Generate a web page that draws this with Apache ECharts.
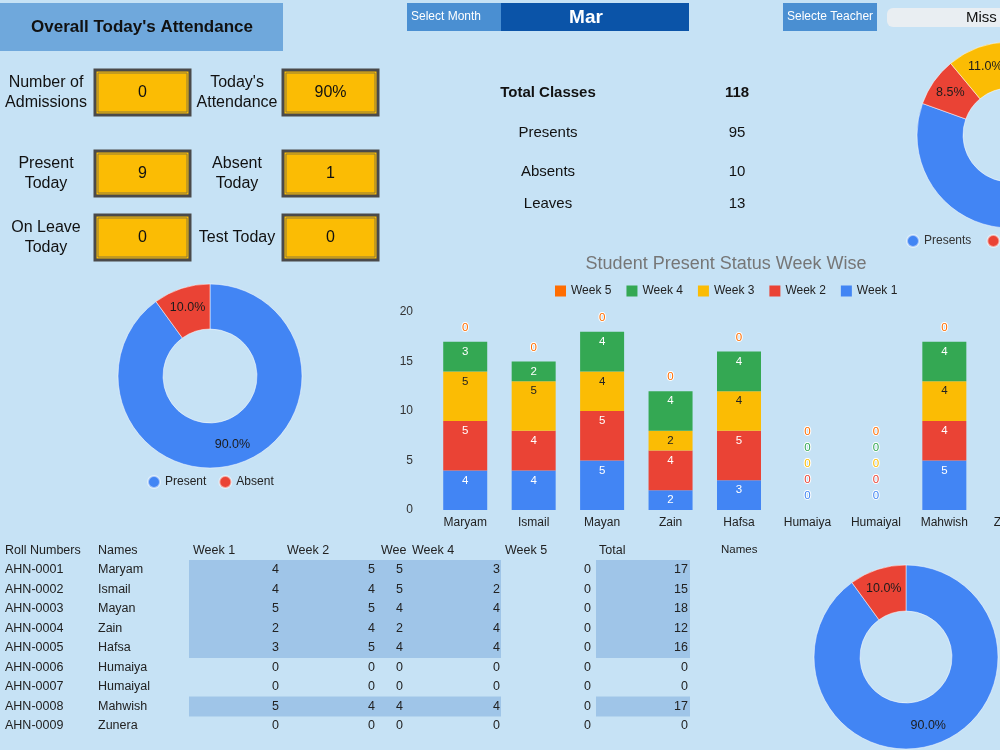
<!DOCTYPE html>
<html>
<head>
<meta charset="utf-8">
<script src="https://cdn.jsdelivr.net/npm/echarts@6/dist/echarts.min.js"></script>
<style>
html, body { margin: 0; padding: 0; background: #c6e2f5; }
#main { width: 1000px; height: 750px; }
</style>
</head>
<body>
<div id="main"></div>
<script>
// Attendance dashboard, one ECharts instance: stacked week bars, three donuts,
// KPI tiles and the roll table drawn as graphic text.

// ── Data ────────────────────────────────────────────────────────────────
const rollNumbers = ['AHN-0001', 'AHN-0002', 'AHN-0003', 'AHN-0004', 'AHN-0005',
                     'AHN-0006', 'AHN-0007', 'AHN-0008', 'AHN-0009'];
const students = ['Maryam', 'Ismail', 'Mayan', 'Zain', 'Hafsa',
                  'Humaiya', 'Humaiyal', 'Mahwish', 'Zunera'];
const week1 = [4, 4, 5, 2, 3, 0, 0, 5, 0];
const week2 = [5, 4, 5, 4, 5, 0, 0, 4, 0];
const week3 = [5, 5, 4, 2, 4, 0, 0, 4, 0];
const week4 = [3, 2, 4, 4, 4, 0, 0, 4, 0];
const week5 = [0, 0, 0, 0, 0, 0, 0, 0, 0];
const totals = [17, 15, 18, 12, 16, 0, 0, 17, 0];
const weekNames = ['Week 1', 'Week 2', 'Week 3', 'Week 4', 'Week 5'];

const kpiTiles = [
    ['Number of\nAdmissions', '0'], ["Today's\nAttendance", '90%'],
    ['Present\nToday', '9'],        ['Absent\nToday', '1'],
    ['On Leave\nToday', '0'],       ['Test Today', '0']
];
const classStatNames = ['Total Classes', 'Presents', 'Absents', 'Leaves'];
const classStatValues = [118, 95, 10, 13];

const todayNames = ['Present', 'Absent'];
const todayValues = [9, 1];
const teacherNames = ['Presents', 'Absents', 'Leaves'];
const teacherValues = [95, 10, 13];

const tableHeaders = ['Roll Numbers', 'Names', 'Week 1', 'Week 2', 'Wee', 'Week 4', 'Week 5', 'Total'];

// ── Palette ─────────────────────────────────────────────────────────────
const BG     = '#c6e2f5';
const BLUE   = '#4285f4';
const RED    = '#ea4335';
const YELLOW = '#fbbc04';
const GREEN  = '#34a853';
const ORANGE = '#ff6d01';
const HILITE = '#9fc5e8';
const FONT   = 'Arial, "Liberation Sans", sans-serif';

const weekColors = [BLUE, RED, YELLOW, GREEN, ORANGE];
const weekInk    = ['#ffffff', '#ffffff', '#222222', '#ffffff', '#ffffff'];
const weeks = [week1, week2, week3, week4, week5];

// ── Graphic helpers ─────────────────────────────────────────────────────
const g = [];
function rect(x, y, w, h, fill, extra) {
    g.push({ type: 'rect', silent: true,
        shape: { x: x, y: y, width: w, height: h, r: (extra && extra.r) || 0 },
        style: Object.assign({ fill: fill }, extra && extra.style) });
}
function text(x, y, str, size, opts) {
    opts = opts || {};
    g.push({ type: 'text', silent: true, x: x, y: y,
        style: { text: str, fill: opts.color || '#111', align: opts.align || 'center',
                 verticalAlign: 'middle', lineHeight: opts.lineHeight || size + 3,
                 font: (opts.bold ? 'bold ' : '') + size + 'px ' + FONT } });
}

// Header band
rect(0, 3, 283, 48, '#6fa8dc');
text(142, 27, "Overall Today's Attendance", 17, { bold: true });

rect(407, 3, 94, 28, '#4a8fd2');
text(411, 17, 'Select Month', 12, { color: '#ffffff', align: 'left' });
rect(501, 3, 188, 28, '#0b54a8');
text(586, 18, 'Mar', 19, { bold: true, color: '#ffffff' });

rect(783, 3, 94, 28, '#4a8fd2');
text(787, 17, 'Selecte Teacher', 12, { color: '#ffffff', align: 'left' });
rect(887, 8, 140, 19, '#e9eef2', { r: 6 });
text(966, 18, 'Miss', 15, { align: 'left' });

// KPI tiles: 2 columns x 3 rows
const tileX = [95, 283];
const labelX = [46, 237];
const tileY = [70, 151, 215];
kpiTiles.forEach(function (t, i) {
    const col = i % 2, row = Math.floor(i / 2);
    const x = tileX[col], y = tileY[row];
    rect(x, y, 95, 45, YELLOW, { style: { stroke: '#4a4a4a', lineWidth: 3 } });
    rect(x + 3, y + 3, 89, 39, YELLOW, { style: { stroke: '#8c7a3a', lineWidth: 1 } });
    text(x + 47.5, y + 23, t[1], 16);
    text(labelX[col], y + 23, t[0], 16, { lineHeight: 20 });
});

// Month class summary
const statY = [93, 133, 172, 204];
classStatNames.forEach(function (n, i) {
    text(548, statY[i], n, 15, { bold: i === 0 });
    text(737, statY[i], String(classStatValues[i]), 15, { bold: i === 0 });
});

// Chart title
text(726, 264, 'Student Present Status Week Wise', 18, { color: '#767676' });

// ── Roll table ──────────────────────────────────────────────────────────
const headerX = [5, 98, 193, 287, 381, 412, 505, 599];
tableHeaders.forEach(function (h, i) { text(headerX[i], 551, h, 12.5, { align: 'left', color: '#222' }); });
text(721, 550, 'Names', 11.5, { align: 'left', color: '#222' });

const rowY = students.map(function (_, i) { return 570 + 19.5 * i; });
students.forEach(function (_, i) {
    if (totals[i] > 0) {
        rect(189, rowY[i] - 10, 312, 20, HILITE);
        rect(596, rowY[i] - 10, 94, 20, HILITE);
    }
});
const valueRight = [279, 375, 403, 500, 591, 688];
students.forEach(function (name, i) {
    text(5, rowY[i], rollNumbers[i], 12.5, { align: 'left', color: '#222' });
    text(98, rowY[i], name, 12.5, { align: 'left', color: '#222' });
    const cells = [week1[i], week2[i], week3[i], week4[i], week5[i], totals[i]];
    cells.forEach(function (v, c) {
        text(valueRight[c], rowY[i], String(v), 12.5, { align: 'right', color: '#222' });
    });
});

// ── Series ──────────────────────────────────────────────────────────────
const barSeries = weeks.map(function (vals, s) {
    return {
        name: weekNames[s], type: 'bar', stack: 'weeks', barWidth: 44,
        itemStyle: { color: weekColors[s] },
        label: { show: true, fontSize: 11.5, fontFamily: FONT },
        emphasis: { disabled: true },
        data: vals.map(function (v, c) {
            if (v !== 0) {
                return { value: v, label: { position: 'insideTop', distance: 4, color: weekInk[s] } };
            }
            // zero segments: Google-style labels stacked above whatever is below
            let k = 0;
            for (let t = s - 1; t >= 0 && weeks[t][c] === 0; t--) k++;
            return { value: v, label: { position: 'top', distance: 8 + 16 * k,
                color: weekColors[s], textBorderColor: '#ffffff', textBorderWidth: 2 } };
        })
    };
});

function donut(center, radius, names, values, colors) {
    return {
        type: 'pie', center: center, radius: radius, silent: true,
        percentPrecision: 1, avoidLabelOverlap: false,
        label: { show: true, position: 'inside', color: '#1c1c1c', fontSize: 12.5, fontFamily: FONT,
                 formatter: function (p) { return p.percent.toFixed(1) + '%'; } },
        labelLine: { show: false },
        itemStyle: { borderColor: 'rgba(255,255,255,0.5)', borderWidth: 1 },
        data: names.map(function (n, i) { return { name: n, value: values[i], itemStyle: { color: colors[i] } }; })
    };
}

const chart = echarts.init(document.getElementById('main'), null, { renderer: 'canvas' });
chart.setOption({
    animation: false,
    backgroundColor: BG,
    textStyle: { fontFamily: FONT },
    legend: [{
        data: weekNames.slice().reverse(), left: 555, top: 285, padding: 0,
        icon: 'rect', itemWidth: 11, itemHeight: 11, itemGap: 15, selectedMode: false,
        textStyle: { fontSize: 12, color: '#222' }
    }, {
        data: todayNames, left: 147, top: 475, padding: 0,
        icon: 'circle', itemWidth: 12, itemHeight: 12, itemGap: 12, selectedMode: false,
        textStyle: { fontSize: 12, color: '#222' }
    }, {
        data: teacherNames, left: 906, top: 234, padding: 0, width: 300, orient: 'horizontal',
        icon: 'circle', itemWidth: 12, itemHeight: 12, itemGap: 15, selectedMode: false,
        textStyle: { fontSize: 12, color: '#333' }
    }],
    grid: { left: 431, top: 312, width: 616, height: 198, outerBoundsMode: 'none', containLabel: false },
    xAxis: {
        type: 'category', data: students,
        axisLine: { show: false }, axisTick: { show: false },
        axisLabel: { interval: 0, margin: 7, fontSize: 12, color: '#222' }
    },
    yAxis: {
        type: 'value', min: 0, max: 20, interval: 5,
        axisLine: { show: false }, axisTick: { show: false }, splitLine: { show: false },
        axisLabel: { margin: 18, fontSize: 12, color: '#333' }
    },
    series: barSeries.concat([
        donut([210, 376], [47, 92], todayNames, todayValues, [BLUE, RED]),
        donut([906, 657], [46, 92], todayNames, todayValues, [BLUE, RED]),
        donut([1010, 135], [47, 93], teacherNames, teacherValues, [BLUE, RED, YELLOW])
    ]),
    graphic: g
});
</script>
</body>
</html>
